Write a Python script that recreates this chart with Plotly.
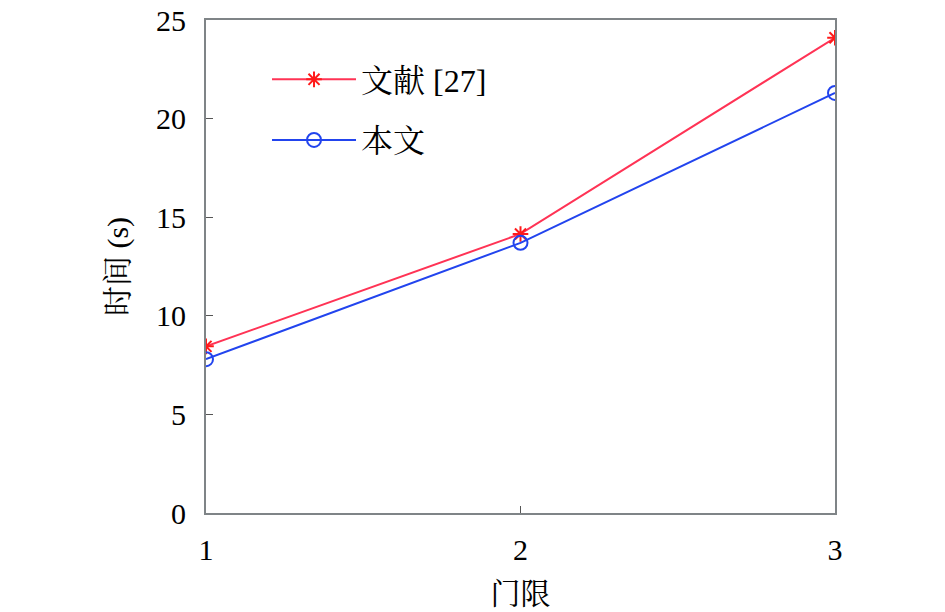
import plotly.graph_objects as go

thresholds = [1, 2, 3]
time_ref27 = [8.45, 14.15, 24.1]
time_ours = [7.8, 13.7, 21.3]

serif = "Liberation Serif, Times New Roman, Noto Serif CJK SC, Noto Sans CJK SC, serif"

fig = go.Figure()
fig.add_trace(go.Scatter(
    x=thresholds, y=time_ref27, name="文献 [27]", mode="lines+markers", legendgroup="a",
    line=dict(color="#ff3355", width=2),
    marker=dict(symbol="asterisk-open", size=13, color="#ff1a1a", line=dict(width=2, color="#ff1a1a")),
))
fig.add_trace(go.Scatter(
    x=thresholds, y=time_ours, name="本文", mode="lines+markers", legendgroup="b",
    line=dict(color="#2244ee", width=2),
    marker=dict(symbol="circle-open", size=14, color="#2244ee", line=dict(width=2)),
))

axis_common = dict(
    showline=True, linecolor="#7f8487", linewidth=2, mirror=True,
    ticks="inside", ticklen=7, tickcolor="#555", showgrid=False, zeroline=False,
    automargin=False, ticklabeloverflow="allow",
    tickfont=dict(family=serif, size=30, color="black"),
)

# the page body adds an 8 px offset, so margins are shifted to compensate
fig.update_layout(
    width=945, height=612,
    margin=dict(l=198, r=118, t=12, b=107),
    paper_bgcolor="white", plot_bgcolor="white",
    font=dict(family=serif, color="black"),
    xaxis=dict(range=[1, 3], tickvals=thresholds, ticklabelstandoff=9,
               title=dict(text="门限", font=dict(size=30), standoff=18), **axis_common),
    yaxis=dict(range=[0, 25], dtick=5, ticklabelstandoff=12,
               title=dict(text="时间 (s)", font=dict(size=30), standoff=19), **axis_common),
    legend=dict(x=0.097, y=0.935, xanchor="left", yanchor="top", bgcolor="rgba(0,0,0,0)",
                font=dict(family=serif, size=32), itemwidth=84,
                traceorder="grouped", tracegroupgap=16),
    showlegend=True,
)

fig.write_html("out.html")
